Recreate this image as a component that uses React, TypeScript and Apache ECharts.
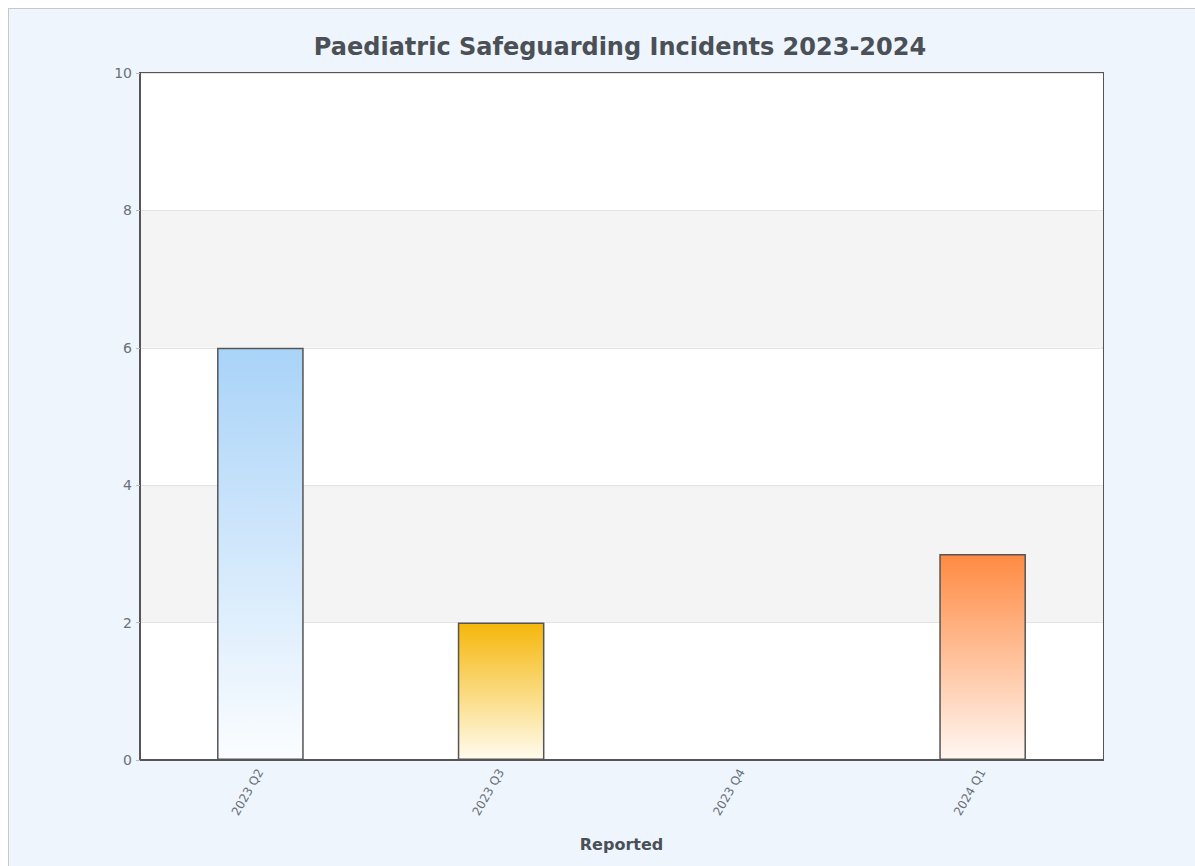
import React, { useEffect, useRef } from "react";
import * as echarts from "echarts";

const categories = ["2023 Q2", "2023 Q3", "2023 Q4", "2024 Q1"];
const incidents = [6, 2, 0, 3];
const barTopColors = ["#a9d3f8", "#f5b70a", "#f7c98a", "#ff8a42"];
const barBottomColors = ["#fbfdff", "#fffcee", "#fffaf2", "#fff7f2"];
const yTicks = { min: 0, max: 10, interval: 2 };

export default function App() {
  const ref = useRef<HTMLDivElement>(null);

  useEffect(() => {
    if (!ref.current) return;
    const html = document.documentElement;
    const prevOverflow = html.style.overflow;
    html.style.overflow = "hidden";
    const chart = echarts.init(ref.current, undefined, { renderer: "svg" });
    const font = "'DejaVu Sans', Verdana, sans-serif";
    chart.setOption({
      animation: false,
      backgroundColor: "#eef5fd",
      title: {
        text: "Paediatric Safeguarding Incidents 2023-2024",
        left: "center",
        top: 21,
        textStyle: { fontFamily: font, fontSize: 24, fontWeight: "bold", color: "#4b4f56" },
      },
      grid: {
        left: 131,
        right: 128,
        top: 64,
        bottom: 106,
        show: true,
        backgroundColor: "#ffffff",
        borderColor: "#555555",
        borderWidth: 2,
      },
      xAxis: {
        type: "category",
        data: categories,
        name: "Reported",
        nameLocation: "middle",
        nameGap: 76,
        nameTextStyle: { fontFamily: font, fontSize: 16, fontWeight: "bold", color: "#4b4f56" },
        axisLine: { lineStyle: { color: "#555555", width: 2 } },
        axisTick: { show: false },
        axisLabel: {
          rotate: 60,
          interval: 0,
          margin: 10,
          fontFamily: font,
          fontSize: 12,
          color: "#6b6f76",
        },
      },
      yAxis: {
        type: "value",
        min: yTicks.min,
        max: yTicks.max,
        interval: yTicks.interval,
        axisLine: { show: true, lineStyle: { color: "#555555", width: 2 } },
        axisTick: { show: true, length: 4, lineStyle: { color: "#bbbbbb" } },
        axisLabel: { fontFamily: font, fontSize: 14, color: "#6b6f76", margin: 8 },
        splitLine: { show: true, lineStyle: { color: "#e3e3e3", width: 1 } },
        splitArea: { show: true, areaStyle: { color: ["#ffffff", "#f4f4f4"] } },
      },
      series: [
        {
          type: "bar",
          barWidth: "36%",
          data: incidents.map((v, i) => ({
            value: v,
            itemStyle: {
              color: new echarts.graphic.LinearGradient(0, 0, 0, 1, [
                { offset: 0, color: barTopColors[i] },
                { offset: 1, color: barBottomColors[i] },
              ]),
              borderColor: "#555555",
              borderWidth: 1.5,
            },
          })),
        },
      ],
    });
    return () => {
      chart.dispose();
      html.style.overflow = prevOverflow;
    };
  }, []);

  return (
    <div
      style={{
        position: "absolute",
        left: 8,
        top: 8,
        width: 1240,
        height: 870,
        borderTop: "1px solid #c8c8c8",
        borderLeft: "1px solid #c8c8c8",
        boxSizing: "border-box",
        background: "#eef5fd",
        overflow: "hidden",
      }}
    >
      <div ref={ref} style={{ width: 1222, height: 857 }} />
    </div>
  );
}
